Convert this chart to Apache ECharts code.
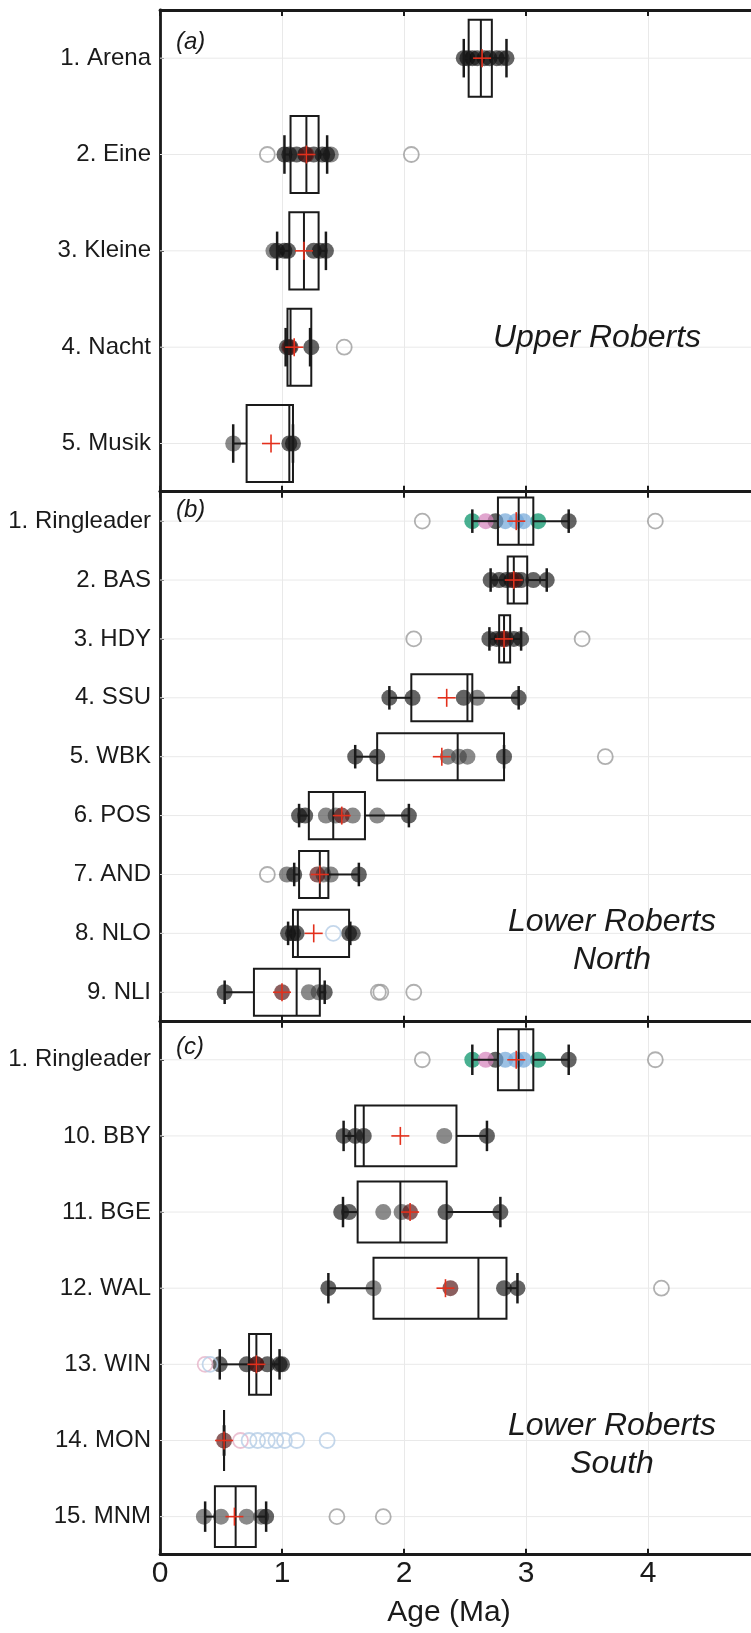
<!DOCTYPE html>
<html>
<head>
<meta charset="utf-8">
<script src="https://cdn.jsdelivr.net/npm/echarts@6/dist/echarts.min.js"></script>
<style>
html, body {margin: 0; padding: 0; background: #fff;}
#chart {width: 751px; height: 1633px;}
</style>
</head>
<body>
<div id="chart"></div>
<script>
// (a) Upper Roberts
var labelsA = ['1. Arena', '2. Eine', '3. Kleine', '4. Nacht', '5. Musik'];
var boxA = [[2.53, 2.63, 2.72], [1.07, 1.20, 1.30], [1.06, 1.18, 1.30], [1.045, 1.07, 1.24], [0.71, 1.06, 1.09]];
var whiskA = [[2.49, 2.84], [1.02, 1.37], [0.96, 1.36], [1.03, 1.23], [0.60, 1.09]];
var meanA = [2.64, 1.20, 1.18, 1.10, 0.91];
var darkA = [[2.49, 2.52, 2.56, 2.60, 2.66, 2.70, 2.76, 2.84], [1.02, 1.06, 1.12, 1.19, 1.26, 1.33, 1.37],
  [0.96, 1.02, 1.05, 1.26, 1.31, 1.36], [1.04, 1.07, 1.24], [1.06, 1.09]];
var greyA = [[2.80], [1.40], [0.93], [], [0.60]];
var redA = [[], [1.20], [], [1.06], []];
var outA = [[], [0.88, 2.06], [], [1.51], []];

// (b) Lower Roberts North
var labelsB = ['1. Ringleader', '2. BAS', '3. HDY', '4. SSU', '5. WBK', '6. POS', '7. AND', '8. NLO', '9. NLI'];
var boxB = [[2.77, 2.94, 3.06], [2.85, 2.90, 3.01], [2.78, 2.82, 2.87], [2.06, 2.52, 2.56], [1.78, 2.44, 2.82],
  [1.22, 1.42, 1.68], [1.14, 1.31, 1.38], [1.09, 1.13, 1.55], [0.77, 1.12, 1.31]];
var whiskB = [[2.56, 3.35], [2.71, 3.17], [2.70, 2.96], [1.88, 2.94], [1.60, 2.82],
  [1.14, 2.04], [1.10, 1.63], [1.05, 1.56], [0.53, 1.35]];
var meanB = [2.92, 2.90, 2.82, 2.35, 2.31, 1.49, 1.31, 1.26, 1.00];
var darkB = [[2.75, 3.35], [2.71, 2.78, 2.84, 2.88, 2.92, 2.96, 3.06, 3.17], [2.70, 2.76, 2.80, 2.84, 2.90, 2.96],
  [1.88, 2.07, 2.49, 2.94], [1.60, 1.78, 2.82], [1.14, 1.19, 2.04], [1.10, 1.63], [1.05, 1.09, 1.12, 1.55, 1.58], [0.53, 1.35]];
var greyB = [[], [], [], [2.60], [2.36, 2.45, 2.52], [1.36, 1.44, 1.58, 1.78], [1.04, 1.34, 1.40], [], [1.22, 1.30]];
var redB = [[], [2.90], [2.82], [], [], [1.49], [1.29], [], [1.00]];
var outB = [[2.15, 4.06], [], [2.08, 3.46], [], [3.65], [], [0.88], [], [1.79, 1.81, 2.08]];
var openBlueB = [[], [], [], [], [], [], [], [1.42], []];

// (c) Lower Roberts South
var labelsC = ['1. Ringleader', '10. BBY', '11. BGE', '12. WAL', '13. WIN', '14. MON', '15. MNM'];
var boxC = [[2.77, 2.94, 3.06], [1.60, 1.67, 2.43], [1.62, 1.97, 2.35], [1.75, 2.61, 2.84],
  [0.73, 0.79, 0.91], [0.525, 0.525, 0.525], [0.45, 0.62, 0.785]];
var whiskC = [[2.56, 3.35], [1.505, 2.68], [1.50, 2.79], [1.38, 2.93], [0.49, 0.98], [0.525, 0.525], [0.37, 0.87]];
var meanC = [2.92, 1.97, 2.05, 2.34, 0.79, 0.525, 0.61];
var darkC = [[2.75, 3.35], [1.505, 1.60, 1.67, 2.68], [1.485, 1.55, 2.34, 2.79], [1.38, 2.82, 2.93],
  [0.49, 0.71, 0.79, 0.88, 0.98, 1.0], [], [0.87]];
var greyC = [[], [2.33], [1.83, 1.98], [1.75], [], [], [0.36, 0.50, 0.71, 0.83]];
var redC = [[], [], [2.05], [2.38], [0.79], [0.525], []];
var outC = [[2.15, 4.06], [], [], [4.11], [], [], [1.45, 1.83]];
var openPinkC = [[], [], [], [], [0.37], [0.66], []];
var openBlueC = [[], [], [], [], [0.41], [0.73, 0.80, 0.88, 0.95, 1.02, 1.12, 1.37], []];

// Ringleader grains by analytical group (row 1 of panels b and c)
var ringGreen = [2.56, 3.10];
var ringPink = [2.67];
var ringBlue = [2.83, 2.92, 2.98];

var ff = '"Liberation Sans", Arial, Helvetica, sans-serif';
var ink = '#1a1a1a';

function flat(rows) {
	var out = [];
	for (var i = 0; i < rows.length; i++) {
		for (var j = 0; j < rows[i].length; j++) out.push([rows[i][j], i]);
	}
	return out;
}

function renderRow(params, api) {
	var r = api.value(1);
	var a = api.coord([0, r]), b = api.coord([5, r]);
	return {type: 'line', shape: {x1: a[0], y1: a[1], x2: b[0], y2: b[1]},
		style: {stroke: '#e9e9e9', lineWidth: 1}};
}

function renderBox(params, api) {
	var r = api.value(1);
	var q1 = api.coord([api.value(0), r])[0];
	var md = api.coord([api.value(2), r])[0];
	var q3 = api.coord([api.value(3), r])[0];
	var lo = api.coord([api.value(4), r])[0];
	var hi = api.coord([api.value(5), r])[0];
	var mn = api.coord([api.value(6), r])[0];
	var y = api.coord([0, r])[1];
	var band = api.size([0, 1])[1];
	var bh = band * 0.8, ch = band * 0.4;
	var ln = {stroke: ink, lineWidth: 2};
	var kids = [
		{type: 'line', shape: {x1: lo, y1: y, x2: q1, y2: y}, style: ln},
		{type: 'line', shape: {x1: q3, y1: y, x2: hi, y2: y}, style: ln},
		{type: 'line', shape: {x1: lo, y1: y - ch / 2, x2: lo, y2: y + ch / 2}, style: {stroke: ink, lineWidth: 2.5}},
		{type: 'line', shape: {x1: hi, y1: y - ch / 2, x2: hi, y2: y + ch / 2}, style: {stroke: ink, lineWidth: 2.5}},
		{type: 'rect', shape: {x: q1, y: y - bh / 2, width: q3 - q1, height: bh}, style: {fill: 'none', stroke: ink, lineWidth: 2}},
		{type: 'line', shape: {x1: md, y1: y - bh / 2, x2: md, y2: y + bh / 2}, style: ln},
		{type: 'line', shape: {x1: mn - 9, y1: y, x2: mn + 9, y2: y}, style: {stroke: '#e3301c', lineWidth: 1.6}},
		{type: 'line', shape: {x1: mn, y1: y - 9, x2: mn, y2: y + 9}, style: {stroke: '#e3301c', lineWidth: 1.6}}
	];
	return {type: 'group', children: kids};
}

function boxData(box, whisk, mean) {
	var d = [];
	for (var i = 0; i < box.length; i++) {
		d.push([box[i][0], i, box[i][1], box[i][2], whisk[i][0], whisk[i][1], mean[i]]);
	}
	return d;
}

function dots(gi, data, color) {
	return {type: 'scatter', xAxisIndex: gi, yAxisIndex: gi, data: data, symbol: 'circle', symbolSize: 16,
		z: 3, silent: true, itemStyle: {color: color, borderWidth: 0}};
}

function rings(gi, data, color) {
	return {type: 'scatter', xAxisIndex: gi, yAxisIndex: gi, data: data, symbol: 'circle', symbolSize: 15,
		z: 3, silent: true, itemStyle: {color: 'rgba(0,0,0,0)', borderColor: color, borderWidth: 1.8}};
}

var panels = [
	{labels: labelsA, box: boxA, whisk: whiskA, mean: meanA, dark: darkA, grey: greyA, red: redA, out: outA, ring: false},
	{labels: labelsB, box: boxB, whisk: whiskB, mean: meanB, dark: darkB, grey: greyB, red: redB, out: outB, ring: true},
	{labels: labelsC, box: boxC, whisk: whiskC, mean: meanC, dark: darkC, grey: greyC, red: redC, out: outC, ring: true}
];
var grids = [
	{left: 160, width: 610, top: 10, height: 481.7, outerBoundsMode: 'none', containLabel: false},
	{left: 160, width: 610, top: 491.7, height: 530, outerBoundsMode: 'none', containLabel: false},
	{left: 160, width: 610, top: 1021.7, height: 533, outerBoundsMode: 'none', containLabel: false}
];

var xAxes = [], yAxes = [], series = [];
for (var g = 0; g < 3; g++) {
	var p = panels[g];
	xAxes.push({
		type: 'value', gridIndex: g, position: 'bottom', min: 0, max: 5, interval: 1,
		axisLine: {show: true, onZero: false, lineStyle: {color: ink, width: 2.8}},
		axisTick: {show: true, inside: true, length: 6, lineStyle: {color: ink, width: 2}},
		axisLabel: {show: g == 2, fontSize: 30, color: ink, margin: 4, fontFamily: ff},
		splitLine: {show: true, lineStyle: {color: '#e9e9e9', width: 1}}
	});
	yAxes.push({
		type: 'category', gridIndex: g, data: p.labels, inverse: true,
		axisLine: {show: true, lineStyle: {color: ink, width: 2.8}},
		axisTick: {show: true, inside: true, alignWithLabel: true, length: 4, lineStyle: {color: ink}},
		axisLabel: {interval: 0, fontSize: 24, color: ink, margin: 9, fontFamily: ff},
		splitLine: {show: false}
	});
	series.push({type: 'custom', xAxisIndex: g, yAxisIndex: g, z: 1, silent: true,
		data: p.labels.map(function (l, i) { return [0, i]; }), renderItem: renderRow});
	series.push(dots(g, flat(p.grey), 'rgba(60,60,60,0.75)'));
	series.push(dots(g, flat(p.dark), 'rgba(12,12,12,0.8)'));
	series.push(dots(g, flat(p.red), 'rgba(85,20,20,0.85)'));
	series.push(rings(g, flat(p.out), '#9c9c9c'));
	if (p.ring) {
		series.push(dots(g, ringGreen.map(function (v) { return [v, 0]; }), '#1c9c76'));
		series.push(dots(g, ringPink.map(function (v) { return [v, 0]; }), 'rgba(214,132,188,0.9)'));
		series.push(dots(g, ringBlue.map(function (v) { return [v, 0]; }), 'rgba(110,164,216,0.85)'));
	}
	series.push({type: 'custom', xAxisIndex: g, yAxisIndex: g, z: 5, silent: true,
		data: boxData(p.box, p.whisk, p.mean), renderItem: renderBox});
}
series.push(rings(1, flat(openBlueB), '#b5cde6'));
series.push(rings(2, flat(openPinkC), '#e6b3c8'));
series.push(rings(2, flat(openBlueC), '#b5cde6'));

// top frame lines of each panel
for (var t = 0; t < 3; t++) {
	xAxes.push({
		type: 'value', gridIndex: t, position: 'top', min: 0, max: 5, interval: 1,
		axisLine: {show: true, onZero: false, lineStyle: {color: ink, width: 2.8}},
		axisTick: {show: true, inside: true, length: 6, lineStyle: {color: ink, width: 2}},
		axisLabel: {show: false}, splitLine: {show: false}
	});
}

function txt(x, y, s, size, italic, align) {
	return {type: 'text', x: x, y: y, silent: true, z: 10, style: {
		text: s, fill: ink, fontSize: size, fontFamily: ff, fontStyle: italic ? 'italic' : 'normal',
		align: align, textAlign: align, verticalAlign: 'middle', textVerticalAlign: 'middle', lineHeight: 38}};
}

var myChart = echarts.init(document.getElementById('chart'), null, {renderer: 'canvas'});
myChart.setOption({
	animation: false,
	backgroundColor: '#fff',
	grid: grids,
	xAxis: xAxes,
	yAxis: yAxes,
	series: series,
	graphic: [
		txt(176, 42, '(a)', 24, true, 'left'),
		txt(176, 510, '(b)', 24, true, 'left'),
		txt(176, 1047, '(c)', 24, true, 'left'),
		txt(597, 338, 'Upper Roberts', 32, true, 'center'),
		txt(612, 941, 'Lower Roberts\nNorth', 32, true, 'center'),
		txt(612, 1445, 'Lower Roberts\nSouth', 32, true, 'center'),
		txt(449, 1613, 'Age (Ma)', 30, false, 'center')
	]
});
</script>
</body>
</html>
